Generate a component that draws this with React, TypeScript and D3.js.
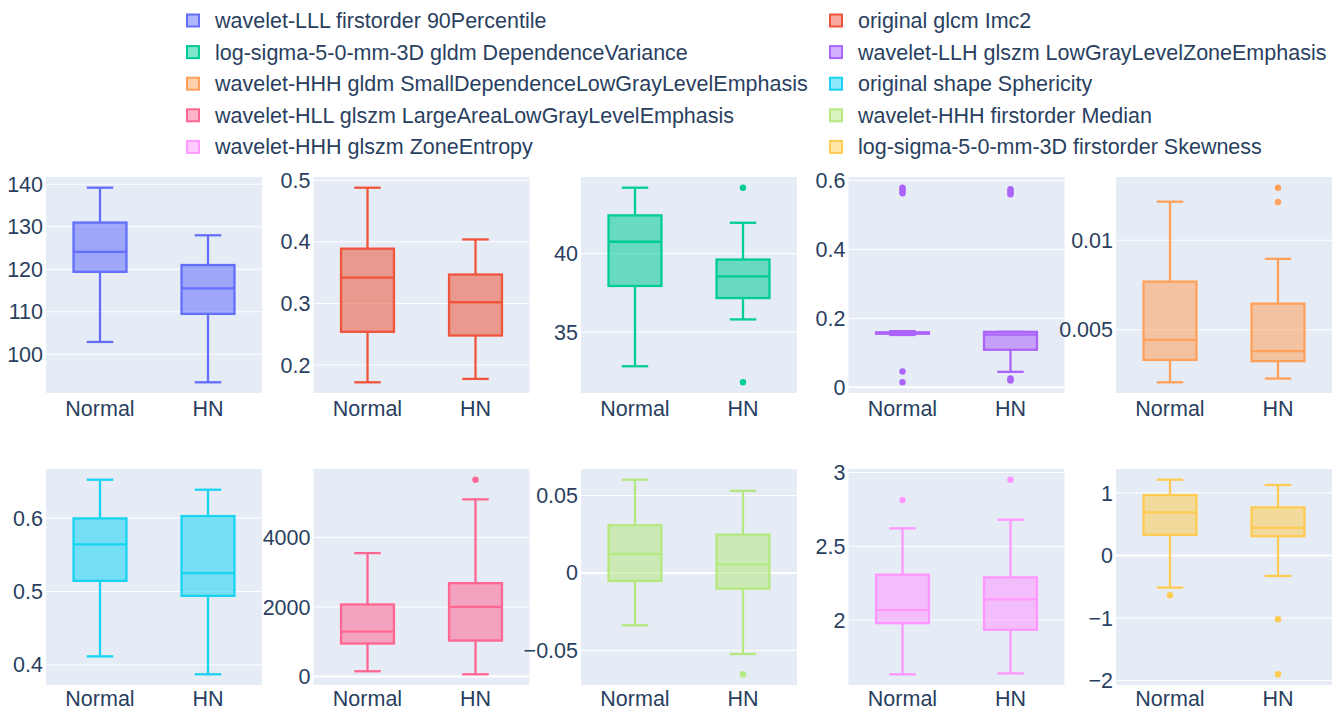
import React, { useEffect, useRef } from 'react'
import * as d3 from 'd3'

const categories = ['Normal', 'HN']

const featureNames = [
  'wavelet-LLL firstorder 90Percentile',
  'original glcm Imc2',
  'log-sigma-5-0-mm-3D gldm DependenceVariance',
  'wavelet-LLH glszm LowGrayLevelZoneEmphasis',
  'wavelet-HHH gldm SmallDependenceLowGrayLevelEmphasis',
  'original shape Sphericity',
  'wavelet-HLL glszm LargeAreaLowGrayLevelEmphasis',
  'wavelet-HHH firstorder Median',
  'wavelet-HHH glszm ZoneEntropy',
  'log-sigma-5-0-mm-3D firstorder Skewness',
]

// [lower whisker, q1, median, q3, upper whisker]
const normalStats = [
  [102.9, 119.4, 124.1, 131.0, 139.2],
  [0.172, 0.254, 0.342, 0.389, 0.488],
  [32.83, 37.94, 40.75, 42.43, 44.19],
  [0.152, 0.1555, 0.158, 0.1595, 0.163],
  [0.00207, 0.00332, 0.00444, 0.00769, 0.01215],
  [0.4117, 0.5145, 0.5641, 0.5995, 0.6522],
  [153, 950, 1295, 2072, 3548],
  [-0.0338, -0.0052, 0.0123, 0.0308, 0.0602],
  [1.634, 1.98, 2.068, 2.308, 2.622],
  [-0.513, 0.33, 0.689, 0.968, 1.213],
]

const hnStats = [
  [93.4, 109.5, 115.5, 121.0, 128.0],
  [0.1775, 0.248, 0.302, 0.347, 0.404],
  [35.81, 37.17, 38.55, 39.62, 41.96],
  [0.045, 0.109, 0.153, 0.161, 0.161],
  [0.00228, 0.00325, 0.00381, 0.00646, 0.00896],
  [0.3873, 0.4941, 0.525, 0.6027, 0.6386],
  [66, 1036, 2003, 2685, 5094],
  [-0.0523, -0.0101, 0.0056, 0.0248, 0.053],
  [1.64, 1.935, 2.141, 2.29, 2.68],
  [-0.327, 0.309, 0.442, 0.77, 1.128],
]

const normalOutliers = [
  [], [], [],
  [0.0147, 0.0458, 0.563, 0.568, 0.574, 0.579],
  [], [], [], [],
  [2.813],
  [-0.635],
]

const hnOutliers = [
  [], [],
  [31.81, 44.19],
  [0.02, 0.023, 0.026, 0.56, 0.565, 0.57, 0.575],
  [0.01213, 0.01293],
  [],
  [5658],
  [-0.0654],
  [2.951],
  [-1.9, -1.02],
]

const yTicks = [
  [100, 110, 120, 130, 140],
  [0.2, 0.3, 0.4, 0.5],
  [35, 40],
  [0, 0.2, 0.4, 0.6],
  [0.005, 0.01],
  [0.4, 0.5, 0.6],
  [0, 2000, 4000],
  [-0.05, 0, 0.05],
  [2, 2.5, 3],
  [-2, -1, 0, 1],
]

const yTickLabels = [
  ['100', '110', '120', '130', '140'],
  ['0.2', '0.3', '0.4', '0.5'],
  ['35', '40'],
  ['0', '0.2', '0.4', '0.6'],
  ['0.005', '0.01'],
  ['0.4', '0.5', '0.6'],
  ['0', '2000', '4000'],
  ['\u22120.05', '0', '0.05'],
  ['2', '2.5', '3'],
  ['\u22122', '\u22121', '0', '1'],
]

const colors = ['#636efa', '#EF553B', '#00cc96', '#ab63fa', '#FFA15A', '#19d3f3', '#FF6692', '#B6E880', '#FF97FF', '#FECB52']

const W = 1336
const H = 709
const FONT = '"Liberation Sans", Arial, sans-serif'
const FS = 21.5
const TEXT = '#2a3f5f'
const plotW = 216
const plotH = 216
const colLefts = [46, 313.5, 581, 848.5, 1116]
const rowTops = [177, 469]

function drawPanel(svg, i) {
  const left = colLefts[i % 5]
  const row = Math.floor(i / 5)
  const top = rowTops[row]
  const g = svg.append('g').attr('transform', `translate(${left}, ${top})`)
  const color = colors[i]

  const all = [...normalStats[i], ...hnStats[i], ...normalOutliers[i], ...hnOutliers[i]]
  const [lo, hi] = d3.extent(all)
  const pad = (hi - lo) * 0.055
  const y = d3.scaleLinear().domain([lo - pad, hi + pad]).range([plotH, 0])
  const x = d3.scaleBand().domain(categories).range([0, plotW])

  g.append('rect').attr('width', plotW).attr('height', plotH).attr('fill', '#E5ECF6')

  // grid + y labels
  yTicks[i].forEach((t, k) => {
    g.append('line')
      .attr('x1', 0).attr('x2', plotW)
      .attr('y1', y(t)).attr('y2', y(t))
      .attr('stroke', 'white')
      .attr('stroke-width', t === 0 ? 2 : 1)
    g.append('text')
      .attr('x', -3).attr('y', y(t)).attr('dy', '0.35em')
      .attr('text-anchor', 'end')
      .attr('font-family', FONT).attr('font-size', FS).attr('fill', TEXT)
      .text(yTickLabels[i][k])
  })

  // x labels
  categories.forEach(c => {
    g.append('text')
      .attr('x', x(c) + x.bandwidth() / 2).attr('y', plotH + (row === 0 ? 23 : 21))
      .attr('text-anchor', 'middle')
      .attr('font-family', FONT).attr('font-size', FS).attr('fill', TEXT)
      .text(c)
  })

  const boxW = x.bandwidth() * 0.49
  const groups = [
    { cat: 'Normal', s: normalStats[i], out: normalOutliers[i] },
    { cat: 'HN', s: hnStats[i], out: hnOutliers[i] },
  ]
  groups.forEach(({ cat, s, out }) => {
    const cx = x(cat) + x.bandwidth() / 2
    const [wLo, q1, med, q3, wHi] = s
    const bg = g.append('g').attr('stroke', color).attr('stroke-width', 2.3).attr('fill', 'none')
    // whiskers
    bg.append('line').attr('x1', cx).attr('x2', cx).attr('y1', y(q3)).attr('y2', y(wHi))
    bg.append('line').attr('x1', cx).attr('x2', cx).attr('y1', y(q1)).attr('y2', y(wLo))
    ;[wLo, wHi].forEach(v => {
      bg.append('line')
        .attr('x1', cx - boxW / 4).attr('x2', cx + boxW / 4)
        .attr('y1', y(v)).attr('y2', y(v))
    })
    bg.append('rect')
      .attr('x', cx - boxW / 2).attr('width', boxW)
      .attr('y', y(q3)).attr('height', Math.max(0.5, y(q1) - y(q3)))
      .attr('fill', color).attr('fill-opacity', 0.55)
    bg.append('line')
      .attr('x1', cx - boxW / 2).attr('x2', cx + boxW / 2)
      .attr('y1', y(med)).attr('y2', y(med))
    out.forEach(v => {
      g.append('circle').attr('cx', cx).attr('cy', y(v)).attr('r', 3.2).attr('fill', color)
    })
  })
}

function drawLegend(svg) {
  const iconX = [193, 836]
  const textX = [215, 858]
  featureNames.forEach((name, i) => {
    const c = i % 2
    const r = Math.floor(i / 2)
    const cy = 20.5 + r * 31.6
    svg.append('rect')
      .attr('x', iconX[c] - 6).attr('y', cy - 6)
      .attr('width', 12).attr('height', 12)
      .attr('fill', colors[i]).attr('fill-opacity', 0.5)
      .attr('stroke', colors[i]).attr('stroke-width', 2)
    svg.append('text')
      .attr('x', textX[c]).attr('y', cy).attr('dy', '0.35em')
      .attr('font-family', FONT).attr('font-size', FS).attr('fill', TEXT)
      .text(name)
  })
}

export default function App() {
  const ref = useRef(null)
  useEffect(() => {
    const svg = d3.select(ref.current)
    svg.selectAll('*').remove()
    svg.append('rect').attr('width', W).attr('height', H).attr('fill', 'white')
    drawLegend(svg)
    for (let i = 0; i < 10; i++) drawPanel(svg, i)
  }, [])
  return (
    <svg ref={ref} width={W} height={H} style={{ position: 'absolute', left: 0, top: 0 }} />
  )
}
